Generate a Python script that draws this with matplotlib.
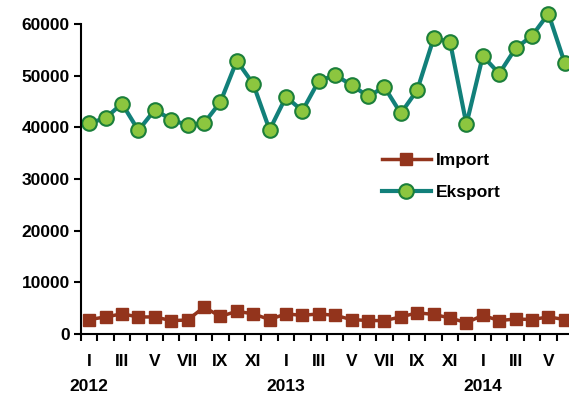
import matplotlib.pyplot as plt

# dane miesieczne 2012-01 .. 2014-06
miesiace = ["I", "II", "III", "IV", "V", "VI", "VII", "VIII", "IX", "X", "XI", "XII"] * 2 + ["I", "II", "III", "IV", "V", "VI"]
lata = ["2012", "2013", "2014"]

import_vals = [2800, 3300, 3900, 3300, 3300, 2600, 2700, 5200, 3400, 4400, 3900, 2800,
               3900, 3600, 3900, 3600, 2800, 2600, 2600, 3300, 4100, 3800, 3100, 2200,
               3600, 2600, 2900, 2800, 3300, 2800]
eksport_vals = [40800, 41800, 44600, 39400, 43400, 41500, 40400, 40800, 44900, 52900, 48400, 39500,
                45900, 43200, 49000, 50100, 48200, 46000, 47800, 42700, 47200, 57200, 56600, 40600,
                53800, 50400, 55300, 57700, 62000, 52400]

plt.rcParams['font.family'] = ['Liberation Sans', 'DejaVu Sans']
fs = 12.5

fig = plt.figure(figsize=(5.69, 3.93), dpi=100)
ax = fig.add_axes([81 / 569, 59 / 393, 492 / 569, 310 / 393])

x = list(range(len(miesiace)))
ax.plot(x, import_vals, color="#93341C", lw=2.5, marker="s", markersize=8.5,
        markerfacecolor="#93341C", markeredgecolor="#93341C", label="Import", clip_on=False)
ax.plot(x, eksport_vals, color="#12807A", lw=3, marker="o", markersize=10.5,
        markerfacecolor="#8CC63F", markeredgecolor="#1B7F3A", markeredgewidth=1.5,
        label="Eksport", clip_on=False)

ax.set_xlim(-0.5, len(miesiace) - 0.5)
ax.set_ylim(0, 60000)
ax.set_yticks(range(0, 60001, 10000))
ax.set_yticklabels([str(v) for v in range(0, 60001, 10000)], fontsize=fs, fontweight="bold")

# kreski na granicach miesiecy, etykiety co dwa miesiace
ax.set_xticks([i - 0.5 for i in range(len(miesiace) + 1)])
ax.set_xticklabels([])
ax.tick_params(axis="x", length=5, width=1.5, direction="out")
ax.tick_params(axis="y", length=5, width=1.5, direction="out", pad=3)
for i in range(0, len(miesiace), 2):
    ax.text(i, -0.088, miesiace[i], transform=ax.get_xaxis_transform(), ha="center", va="center",
            fontsize=fs, fontweight="bold")
for k, rok in enumerate(lata):
    ax.text(k * 12, -0.17, rok, transform=ax.get_xaxis_transform(), ha="center", va="center",
            fontsize=fs, fontweight="bold")

for s in ["top", "right"]:
    ax.spines[s].set_visible(False)
ax.spines["left"].set_linewidth(1.5)
ax.spines["bottom"].set_linewidth(1.5)

leg = ax.legend(loc="upper left", bbox_to_anchor=(0.58, 0.635), frameon=False,
                prop={"weight": "bold", "size": fs}, handlelength=2.8, labelspacing=1.0,
                handletextpad=0.3)

fig.savefig("out.png", dpi=100)
